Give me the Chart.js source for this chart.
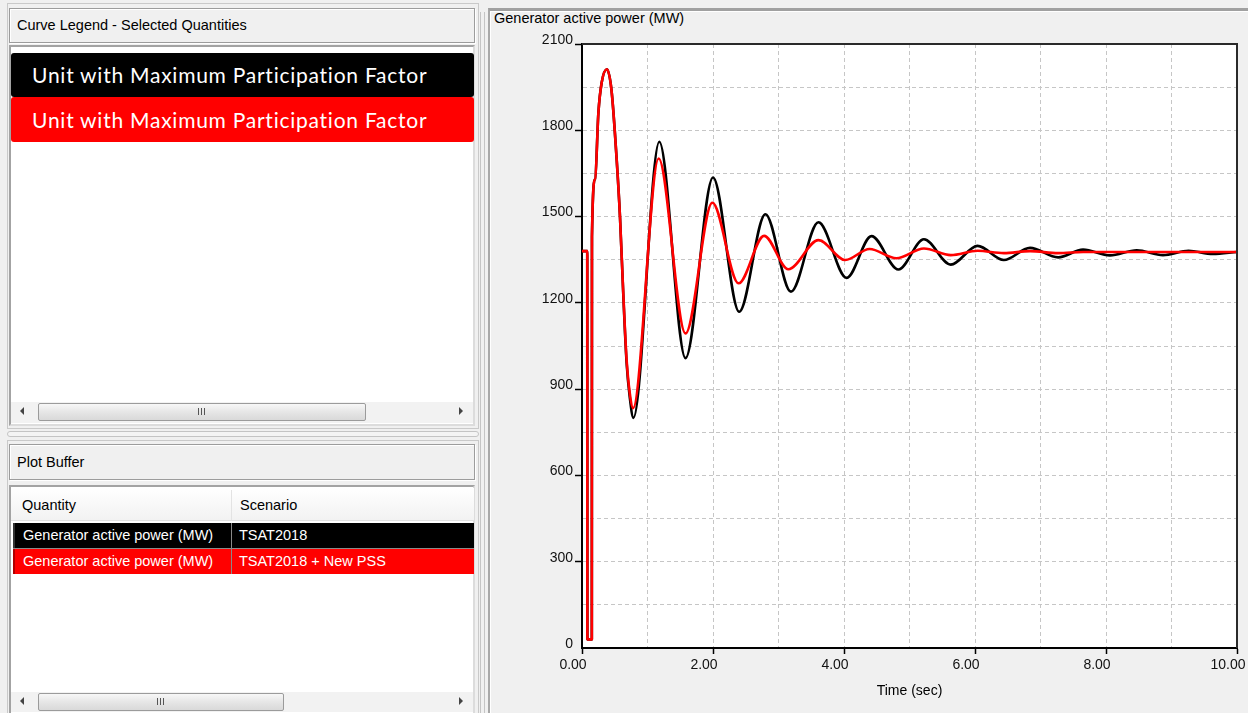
<!DOCTYPE html>
<html>
<head>
<meta charset="utf-8">
<title>Generator active power (MW)</title>
<script src="https://cdn.jsdelivr.net/npm/chart.js@4.4.1/dist/chart.umd.min.js"></script>
<style>
  html, body { margin: 0; padding: 0; width: 1248px; height: 713px; overflow: hidden;
    background: #f0f0f0; font-family: "Liberation Sans", Arial, sans-serif; color: #000; }
  .abs { position: absolute; box-sizing: border-box; }
  .group { border: 1px solid #c9c9c9; }
  .hdr { background: #f0f0f0; border: 1px solid #9c9c9c; box-shadow: inset 1px 1px 0 #fff, 1px 1px 0 #fff;
    font-size: 14.5px; line-height: 33px; padding-left: 7px; white-space: nowrap; }
  .box { background: #fff; border: 2px solid #a3a3a3; border-right-color: #dcdcdc; border-bottom-color: #dcdcdc; }
  .legendRow { color: #fff; font-family: Lato, "Open Sans", sans-serif; font-size: 21px; padding-left: 21px;
    letter-spacing: 0.75px; white-space: nowrap; border-radius: 3px; }
  .scroll { background: #f2f2f2; }
  .thumb { border: 1px solid #9b9b9b; border-radius: 2px;
    background: linear-gradient(#f7f7f7, #e6e6e6 50%, #d9d9d9); }
  .grip { width: 7px; height: 7px;
    background: repeating-linear-gradient(90deg, #555 0 1px, transparent 1px 3px); }
  .arrL { width: 0; height: 0; border-top: 4px solid transparent; border-bottom: 4px solid transparent; border-right: 4px solid #444; }
  .arrR { width: 0; height: 0; border-top: 4px solid transparent; border-bottom: 4px solid transparent; border-left: 4px solid #444; }
  .cell { font-size: 14.5px; white-space: nowrap; }
  .row { color: #fff; }
</style>
</head>
<body>

<!-- Curve legend group -->
<div class="abs group" style="left:7px;top:3px;width:472px;height:426px;"></div>
<div class="abs hdr" style="left:9px;top:8px;width:466px;height:35px;">Curve Legend - Selected Quantities</div>
<div class="abs box" style="left:9px;top:45px;width:466px;height:381px;"></div>
<div class="abs legendRow" style="left:11px;top:53px;width:463px;height:44px;line-height:44px;background:#000;">Unit with Maximum Participation Factor</div>
<div class="abs legendRow" style="left:11px;top:97px;width:463px;height:45px;line-height:45px;background:#ff0000;">Unit with Maximum Participation Factor</div>
<div class="abs scroll" style="left:11px;top:402px;width:462px;height:21px;"></div>
<div class="abs arrL" style="left:20px;top:407px;"></div>
<div class="abs thumb" style="left:38px;top:403px;width:328px;height:18px;"></div>
<div class="abs grip" style="left:198px;top:408px;"></div>
<div class="abs arrR" style="left:459px;top:407px;"></div>

<!-- splitter -->
<div class="abs" style="left:7px;top:431px;width:472px;height:6px;border:1px solid #c4c4c4;border-radius:3px;background:#f4f4f4;"></div>

<!-- Plot buffer group -->
<div class="abs group" style="left:7px;top:440px;width:472px;height:280px;"></div>
<div class="abs hdr" style="left:9px;top:444px;width:466px;height:36px;line-height:34px;">Plot Buffer</div>
<div class="abs box" style="left:9px;top:485px;width:466px;height:240px;"></div>
<div class="abs" style="left:11px;top:488px;width:463px;height:33px;background:linear-gradient(#ffffff,#f2f2f2);border-bottom:1px solid #e2e2e2;"></div>
<div class="abs" style="left:231px;top:490px;width:1px;height:31px;background:#e3e3e3;"></div>
<div class="abs cell" style="left:22px;top:497px;">Quantity</div>
<div class="abs cell" style="left:240px;top:497px;">Scenario</div>
<div class="abs row" style="left:13px;top:523px;width:461px;height:25px;background:#000;border-left:2px solid #333;"></div>
<div class="abs row" style="left:13px;top:549px;width:461px;height:25px;background:#ff0000;border-left:2px solid #b00000;"></div>
<div class="abs" style="left:231px;top:523px;width:1px;height:51px;background:#8a8a8a;"></div>
<div class="abs" style="left:13px;top:548px;width:461px;height:1px;background:#8a8a8a;"></div>
<div class="abs cell row" style="left:23px;top:527px;">Generator active power (MW)</div>
<div class="abs cell row" style="left:239px;top:527px;">TSAT2018</div>
<div class="abs cell row" style="left:23px;top:553px;">Generator active power (MW)</div>
<div class="abs cell row" style="left:239px;top:553px;">TSAT2018 + New PSS</div>
<div class="abs scroll" style="left:11px;top:692px;width:462px;height:20px;"></div>
<div class="abs arrL" style="left:20px;top:697px;"></div>
<div class="abs thumb" style="left:38px;top:693px;width:246px;height:18px;"></div>
<div class="abs grip" style="left:157px;top:698px;"></div>
<div class="abs arrR" style="left:459px;top:697px;"></div>

<!-- vertical splitter between panels -->
<div class="abs" style="left:480px;top:12px;width:5px;height:701px;border-left:1px solid #c4c4c4;border-right:1px solid #c4c4c4;"></div>

<!-- Plot panel -->
<div class="abs" style="left:488px;top:8px;width:760px;height:705px;border-top:3px solid #a0a0a0;border-left:2px solid #a8a8a8;box-shadow:inset 1px 1px 0 #fff;"></div>
<div class="abs" style="left:494px;top:10px;font-size:14.5px;line-height:17px;white-space:nowrap;">Generator active power (MW)</div>
<div class="abs" style="left:490px;top:12px;width:758px;height:701px;">
  <canvas id="plot" width="758" height="701"></canvas>
</div>

<script>
// Time (sec) and generator active power (MW), base case without the new stabilizer
const timeNoPss  = [0, 0.08, 0.082, 0.15, 0.152, 0.20, 0.25, 0.30, 0.38, 0.45, 0.53, 0.58, 0.63, 0.68, 0.73, 0.785,
                    1.18, 1.58, 2.00, 2.40, 2.80, 3.19, 3.61, 4.04, 4.42, 4.83, 5.22, 5.63, 6.04, 6.44,
                    6.84, 7.27, 7.65, 8.06, 8.47, 8.87, 9.26, 9.63, 10.0];
const powerNoPss = [1380, 1380, 30, 30, 1430, 1630, 1860, 1965, 2012, 1940, 1696, 1499, 1230, 995, 870, 800,
                    1760, 1008, 1636, 1169, 1508, 1239, 1480, 1287, 1432, 1316, 1421, 1333, 1398, 1349,
                    1391, 1358, 1385, 1365, 1383, 1366, 1381, 1370, 1377];

// Same disturbance with the new PSS in service
const timePss  = [0, 0.08, 0.082, 0.15, 0.152, 0.20, 0.25, 0.30, 0.38, 0.45, 0.53, 0.58, 0.63, 0.68, 0.73, 0.78,
                  1.17, 1.58, 1.99, 2.39, 2.78, 3.15, 3.61, 4.02, 4.39, 4.80, 5.22, 5.63, 6.04, 6.44,
                  6.84, 7.27, 7.65, 10.0];
const powerPss = [1380, 1380, 30, 30, 1430, 1630, 1860, 1965, 2012, 1940, 1696, 1499, 1235, 1005, 885, 834,
                  1702, 1094, 1548, 1268, 1433, 1317, 1418, 1349, 1387, 1355, 1389, 1366, 1381, 1373,
                  1380, 1373, 1377, 1377];

// Labelled axis ticks
const yTickLabels = [0, 300, 600, 900, 1200, 1500, 1800, 2100];
const xTickLabels = [0, 2, 4, 6, 8, 10];

const toPoints = (ts, vs) => ts.map((t, i) => ({ x: t, y: vs[i] }));

Chart.defaults.font.family = "'Liberation Sans', Arial, sans-serif";
Chart.defaults.color = '#111';

// White plotting area with a dark frame on the top and right sides
const plotFrame = {
  id: 'plotFrame',
  beforeDraw(chart) {
    const { ctx, chartArea: a } = chart;
    ctx.save();
    ctx.fillStyle = '#ffffff';
    ctx.fillRect(a.left, a.top, a.right - a.left, a.bottom - a.top);
    ctx.restore();
  },
  afterDraw(chart) {
    const { ctx, chartArea: a } = chart;
    ctx.save();
    ctx.strokeStyle = '#2a2a2a';
    ctx.lineWidth = 2;
    ctx.beginPath();
    ctx.moveTo(a.left, a.top);
    ctx.lineTo(a.right, a.top);
    ctx.lineTo(a.right, a.bottom);
    ctx.stroke();
    ctx.restore();
  }
};

const gridColor = (edgeValues) => (c) =>
  (c.tick && edgeValues.includes(c.tick.value)) ? 'rgba(0,0,0,0)' : '#c6c6c6';

new Chart(document.getElementById('plot'), {
  type: 'line',
  data: {
    datasets: [
      { label: 'TSAT2018 + New PSS', data: toPoints(timePss, powerPss),
        borderColor: '#ff0000', borderWidth: 2.6, order: 0 },
      { label: 'TSAT2018', data: toPoints(timeNoPss, powerNoPss),
        borderColor: '#000000', borderWidth: 2.6, order: 1 }
    ]
  },
  plugins: [plotFrame],
  options: {
    responsive: false,
    animation: false,
    devicePixelRatio: 1,
    layout: { padding: { top: 32, right: 11, left: 0, bottom: 0 } },
    elements: {
      point: { radius: 0 },
      line: { cubicInterpolationMode: 'monotone', tension: 0, fill: false,
              borderJoinStyle: 'round', borderCapStyle: 'round' }
    },
    plugins: { legend: { display: false }, tooltip: { enabled: false }, title: { display: false } },
    scales: {
      x: {
        type: 'linear', min: 0, max: 10,
        ticks: {
          stepSize: 1, autoSkip: false, maxRotation: 0, padding: 3, labelOffset: -9,
          font: { size: 14 }, color: '#111',
          callback: (v) => xTickLabels.includes(v) ? v.toFixed(2) : ''
        },
        grid: {
          color: gridColor([0, 10]), lineWidth: 1, tickLength: 6, tickWidth: 1.5,
          tickColor: (c) => xTickLabels.includes(c.tick.value) ? '#000' : 'rgba(0,0,0,0)'
        },
        border: { display: true, color: '#000', width: 2, dash: [4, 3] },
        title: { display: true, text: 'Time (sec)', color: '#000', font: { size: 14 },
                 padding: { top: 0, bottom: 13 } },
        afterFit(scale) { scale.height = 65; scale.paddingLeft = 0; scale.paddingRight = 0; }
      },
      y: {
        type: 'linear', min: 0, max: 2100,
        ticks: {
          stepSize: 150, autoSkip: false, padding: 2, labelOffset: -4,
          font: { size: 14 }, color: '#111',
          callback: (v) => yTickLabels.includes(v) ? String(v) : ''
        },
        grid: {
          color: gridColor([0, 2100]), lineWidth: 1, tickLength: 7, tickWidth: 1.5,
          tickColor: (c) => (yTickLabels.includes(c.tick.value) && c.tick.value !== 0) ? '#000' : 'rgba(0,0,0,0)'
        },
        border: { display: true, color: '#000', width: 2, dash: [4, 3] },
        afterFit(scale) { scale.width = 92; scale.paddingTop = 0; scale.paddingBottom = 0; }
      }
    }
  }
});
</script>
</body>
</html>
